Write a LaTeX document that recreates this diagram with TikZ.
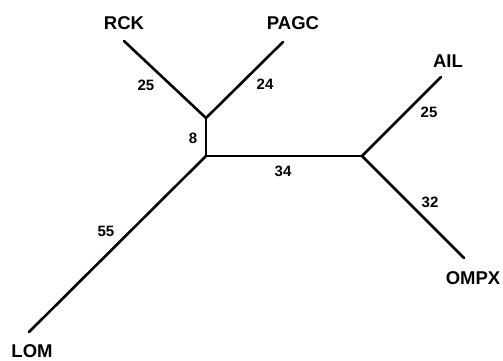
\documentclass[tikz,border=0pt]{standalone}
\usepackage{fontspec}
\setmainfont{Liberation Sans}
\begin{document}
\begin{tikzpicture}[x=1pt,y=-1pt,
  branch/.style={line width=2.6pt,line cap=round},
  taxon/.style={font=\bfseries\fontsize{18.5}{20}\selectfont,inner sep=0pt},
  blen/.style={font=\bfseries\fontsize{15}{16}\selectfont,inner sep=0pt}]
\useasboundingbox (0,0) rectangle (503,360);
% junctions and tips
\coordinate (j1) at (206,118);
\coordinate (j2) at (206,156);
\coordinate (j3) at (362,156);
\coordinate (tRCK) at (124,41);
\coordinate (tPAGC) at (283,42);
\coordinate (tAIL) at (441,77);
\coordinate (tOMPX) at (464,258);
\coordinate (tLOM) at (29,332);
% branches
\draw[branch] (tRCK) -- (j1) -- (tPAGC);
\draw[branch] (j1) -- (j2);
\draw[branch] (j2) -- (j3);
\draw[branch] (tLOM) -- (j2);
\draw[branch] (tAIL) -- (j3) -- (tOMPX);
% taxon labels
\node[taxon] (RCK) at (124,23) {RCK};
\node[taxon] (PAGC) at (293,23) {PAGC};
\node[taxon] (AIL) at (448,61) {AIL};
\node[taxon] (OMPX) at (473,278) {OMPX};
\node[taxon,anchor=base] (LOM) at (32,357) {LOM};
% branch lengths
\node[blen] (l1) at (146,85) {25};
\node[blen] (l2) at (265,84) {24};
\node[blen] (l3) at (193,138) {8};
\node[blen] (l4) at (283,171) {34};
\node[blen] (l5) at (106,231) {55};
\node[blen] (l6) at (429,112) {25};
\node[blen] (l7) at (430,202) {32};
\end{tikzpicture}
\end{document}
